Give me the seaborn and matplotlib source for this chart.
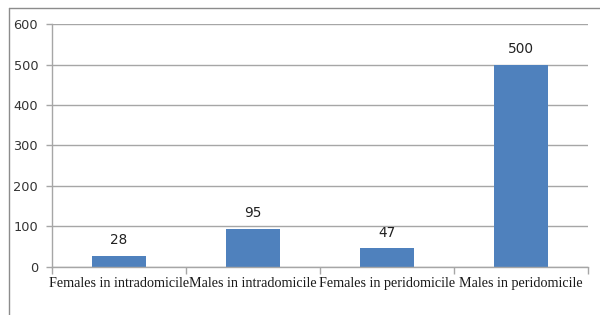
import matplotlib
matplotlib.use("Agg")
import matplotlib.pyplot as plt
import seaborn as sns
import pandas as pd
from matplotlib.lines import Line2D

# data
groups = ["Females in intradomicile", "Males in intradomicile",
          "Females in peridomicile", "Males in peridomicile"]
counts = [28, 95, 47, 500]
y_ticks = [0, 100, 200, 300, 400, 500, 600]

df = pd.DataFrame({"group": groups, "count": counts})

sns.set_style("white")
fig = plt.figure(figsize=(6, 3.15), dpi=100)
ax = fig.add_axes([0.0867, 0.1524, 0.8933, 0.7714])

sns.barplot(data=df, x="group", y="count", color="#4F81BD", saturation=1,
            width=0.4, linewidth=0, ax=ax)

ax.set_ylim(0, 600)
ax.set_xlim(-0.5, 3.5)
ax.set_yticks(y_ticks)
ax.yaxis.grid(True, color="#A6A6A6", linewidth=1)
ax.set_axisbelow(True)
ax.set_xlabel("")
ax.set_ylabel("")

for s in ["top", "right"]:
    ax.spines[s].set_visible(False)
for s in ["left", "bottom"]:
    ax.spines[s].set_color("#A6A6A6")
    ax.spines[s].set_linewidth(1)

# category labels in serif, ticks at category boundaries
ax.tick_params(axis="x", which="major", length=0, pad=7)
ax.set_xticks([-0.5, 0.5, 1.5, 2.5, 3.5], minor=True)
ax.tick_params(axis="x", which="minor", bottom=True, direction="out",
               length=5, color="#A6A6A6", width=1)
ax.set_xticklabels(groups, fontfamily="Liberation Serif", fontsize=10.2, color="#1a1a1a")
ax.tick_params(axis="y", left=True, direction="out", length=4,
               color="#A6A6A6", width=1, pad=6)
for lab in ax.get_yticklabels():
    lab.set_fontfamily("DejaVu Sans")
    lab.set_fontsize(9.3)
    lab.set_color("#333333")

ax.bar_label(ax.containers[0], labels=[str(v) for v in counts], padding=6,
             fontsize=9.8, color="#222222", fontfamily="DejaVu Sans")

# outer chart frame (left and top edges)
fig.add_artist(Line2D([9 / 600, 9 / 600], [0, 1 - 8 / 315], transform=fig.transFigure,
                      color="#8C8C8C", linewidth=1))
fig.add_artist(Line2D([9 / 600, 1], [1 - 8 / 315, 1 - 8 / 315], transform=fig.transFigure,
                      color="#8C8C8C", linewidth=1))

fig.savefig("out.png", dpi=100)
